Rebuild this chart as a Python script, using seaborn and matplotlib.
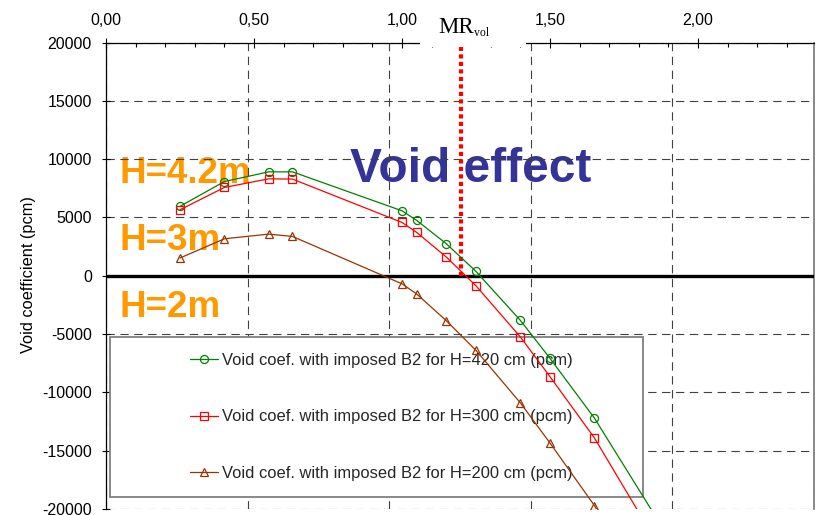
import numpy as np
import seaborn as sns
import matplotlib.pyplot as plt
from matplotlib.patches import Rectangle
from matplotlib.ticker import FuncFormatter, MultipleLocator

# moderation ratio (top axis) and void coefficient in pcm for three core heights
mr = [0.25, 0.40, 0.55, 0.63, 1.00, 1.05, 1.15, 1.25, 1.40, 1.50, 1.65, 2.00]
void_h420 = [5950, 8080, 8910, 8910, 5570, 4740, 2740, 370, -3830, -7080, -12200, -26500]
void_h300 = [5660, 7570, 8310, 8290, 4570, 3710, 1600, -860, -5250, -8650, -13900, -28800]
void_h200 = [1520, 3170, 3570, 3370, -690, -1570, -3860, -6400, -10900, -14340, -19700, -35000]

series_labels = [
    "Void coef. with imposed B2 for H=420 cm (pcm)",
    "Void coef. with imposed B2 for H=300 cm (pcm)",
    "Void coef. with imposed B2 for H=200 cm (pcm)",
]
series_colors = ["#008000", "#ff0000", "#993300"]
series_markers = ["o", "s", "^"]
height_labels = ["H=4.2m", "H=3m", "H=2m"]
mr_vol = 1.20

W, H = 821, 515

sns.set_theme(style="white")
plt.rcParams["font.family"] = ["Liberation Sans", "DejaVu Sans"]
plt.rcParams["axes.unicode_minus"] = False

fig = plt.figure(figsize=(W / 100, H / 100), dpi=100)
rect = [106 / W, 1 - 509 / H, (814 - 106) / W, (509 - 42.5) / H]

# background axes: hidden secondary x scale, only its dashed grid and the big labels
ax_b = fig.add_axes(rect)
ax = fig.add_axes(rect, sharey=ax_b)
ax.patch.set_visible(False)

ax_b.set_xlim(0, 5)
ax_b.set_xticks(range(6))
ax_b.tick_params(axis="both", length=0, labelbottom=False, labelleft=False)
ax_b.set_axisbelow(True)
ax_b.grid(axis="x", color="#404040", lw=0.8, ls=(0, (7.5, 5)))
ax_b.grid(axis="y", visible=False)
for s in ax_b.spines.values():
    s.set_visible(False)

for lab, yb in zip(height_labels, [7970, 2230, -3510]):
    ax_b.text(0.046, yb, lab, transform=ax.transData, color="#ff9900",
              fontsize=26.5, fontweight="bold", va="baseline", zorder=0.2)
ax_b.text(0.824, 8060, "Void effect", transform=ax.transData, color="#333399",
          fontsize=34.5, fontweight="bold", va="baseline", zorder=0.2)

# data
for yv, lab, col, mk in zip([void_h420, void_h300, void_h200], series_labels,
                            series_colors, series_markers):
    sns.lineplot(x=mr, y=yv, ax=ax, color=col, marker=mk, markersize=5.8,
                 markerfacecolor="none", markeredgecolor=col, markeredgewidth=0.9,
                 linewidth=0.9, label=lab, zorder=6)

ax.axhline(0, color="black", lw=2.4, zorder=5.5)
ax.vlines(mr_vol, 0, 20000, colors="red", lw=3, linestyles=(0, (1, 0.8)), zorder=5.6)

ax.set_xlim(0, 2.392)
ax.set_ylim(-20000, 20000)
ax.xaxis.tick_top()
ax.xaxis.set_major_locator(MultipleLocator(0.5))
ax.xaxis.set_minor_locator(MultipleLocator(0.1))
ax.xaxis.set_major_formatter(FuncFormatter(lambda v, p: f"{v:.2f}".replace(".", ",")))
ax.set_yticks(np.arange(-20000, 20001, 5000))
ax.tick_params(axis="x", which="major", direction="inout", length=6.5, width=0.8,
               pad=6.9, labelsize=11.5, top=True, bottom=False, colors="black")
ax.tick_params(axis="x", which="minor", direction="in", length=3.2, width=0.8,
               top=True, bottom=False, colors="black")
ax.tick_params(axis="y", which="major", direction="inout", length=6, width=0.8,
               pad=7.1, labelsize=11.5, left=True, right=False, colors="black")
ax.set_axisbelow(True)
ax.grid(axis="y", color="#404040", lw=0.8, ls=(0, (7.5, 5)))
ax.grid(axis="x", visible=False)

ax.spines["top"].set_color("black")
ax.spines["top"].set_linewidth(0.9)
ax.spines["left"].set_color("black")
ax.spines["left"].set_linewidth(0.9)
ax.spines["right"].set_color("#808080")
ax.spines["right"].set_linewidth(1.3)
ax.spines["bottom"].set_visible(False)

ax.set_xlabel("")
ax.set_ylabel("Void coefficient (pcm)", fontsize=11.8, color="black")
ax.yaxis.set_label_coords(-0.099, 0.503)

# legend sits on a white box; the data lines stay drawn over it
box = (0.006, 0.0257, 0.7525, 0.344)
ax.add_patch(Rectangle(box[:2], box[2], box[3], transform=ax.transAxes,
                       facecolor="white", edgecolor="#808080", lw=1.3, zorder=4))
leg = ax.legend(loc="center", bbox_to_anchor=(0.012, 0.0257, 0.7525, 0.344),
                frameon=False, fontsize=11.85, labelspacing=2.52,
                handlelength=1.7, handletextpad=0.25)
leg.set_zorder(5)

# MR_vol label breaks the top spine
ax.add_patch(Rectangle((420 / W, 1 - 46.5 / H), (526 - 420) / W, 22 / H,
                       transform=fig.transFigure, facecolor="white",
                       edgecolor="none", clip_on=False, zorder=7))
fig.text(438 / W, 1 - 33 / H, "MR", family=["Liberation Serif"], fontsize=16.5,
         va="baseline", color="black")
fig.text(473.5 / W, 1 - 36.5 / H, "vol", family=["Liberation Serif"], fontsize=8.5,
         va="baseline", color="black")

fig.savefig("out.png", dpi=100)
